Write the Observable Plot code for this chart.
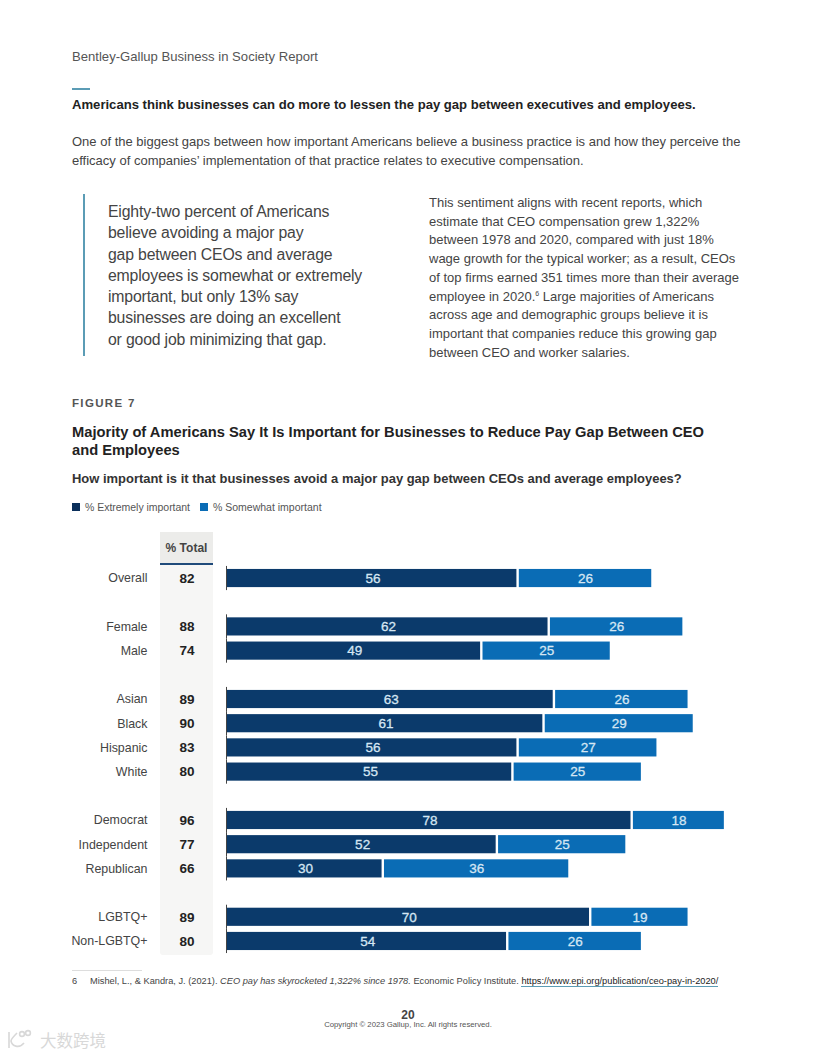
<!DOCTYPE html>
<html><head><meta charset="utf-8">
<script src="https://cdn.jsdelivr.net/npm/d3@7"></script>
<script src="https://cdn.jsdelivr.net/npm/@observablehq/plot@0.6"></script>
<style>
html,body{margin:0;padding:0;background:#fff}
body{width:816px;height:1056px;position:relative;overflow:hidden;font-family:"Liberation Sans",sans-serif;color:#333}
.t{position:absolute;white-space:nowrap}
#chart{position:absolute;left:0;top:525px}
#chart svg{background:transparent}
.col{position:absolute;left:160px;width:53px;top:532px;height:423px;background:#f6f6f5;border-radius:0 0 3px 3px}
.colh{position:absolute;left:160px;width:53px;top:532px;height:33px;background:#ececea;border-bottom:2px solid #1f4a7a;text-align:center;font-size:12px;line-height:33px;font-weight:bold;color:#444;box-sizing:border-box}
sup{font-size:7px;line-height:0}
</style></head><body>
<div class="t" style="left:72px;top:49px;font-size:13.1px;color:#555">Bentley-Gallup Business in Society Report</div>
<div class="t" style="left:72px;top:88px;width:18px;height:2px;background:#5b9cb5"></div>
<div class="t" style="left:72px;top:97px;font-size:13.1px;font-weight:bold;color:#222">Americans think businesses can do more to lessen the pay gap between executives and employees.</div>
<div class="t" style="left:72px;top:132px;font-size:13px;line-height:19px;color:#444">One of the biggest gaps between how important Americans believe a business practice is and how they perceive the<br>efficacy of companies’ implementation of that practice relates to executive compensation.</div>
<div class="t" style="left:83px;top:194px;width:2px;height:162px;background:#5b9cb5"></div>
<div class="t" style="left:108px;top:201px;font-size:15.8px;letter-spacing:-0.17px;line-height:21.3px;color:#444">Eighty-two percent of Americans<br>believe avoiding a major pay<br>gap between CEOs and average<br>employees is somewhat or extremely<br>important, but only 13% say<br>businesses are doing an excellent<br>or good job minimizing that gap.</div>
<div class="t" style="left:429px;top:194px;font-size:13px;line-height:18.7px;color:#444">This sentiment aligns with recent reports, which<br>estimate that CEO compensation grew 1,322%<br>between 1978 and 2020, compared with just 18%<br>wage growth for the typical worker; as a result, CEOs<br>of top firms earned 351 times more than their average<br>employee in 2020.<sup>6</sup> Large majorities of Americans<br>across age and demographic groups believe it is<br>important that companies reduce this growing gap<br>between CEO and worker salaries.</div>
<div class="t" style="left:72px;top:397px;font-size:11.5px;font-weight:bold;letter-spacing:1.35px;color:#555">FIGURE 7</div>
<div class="t" style="left:72px;top:423px;font-size:14.7px;line-height:18px;font-weight:bold;color:#222">Majority of Americans Say It Is Important for Businesses to Reduce Pay Gap Between CEO<br>and Employees</div>
<div class="t" style="left:72px;top:471px;font-size:12.96px;font-weight:bold;color:#333">How important is it that businesses avoid a major pay gap between CEOs and average employees?</div>
<div class="t" style="left:72px;top:503px;width:8px;height:8px;background:#0b2f5b"></div>
<div class="t" style="left:85px;top:501px;font-size:10.5px;letter-spacing:-0.03px;color:#555">% Extremely important</div>
<div class="t" style="left:200px;top:503px;width:8px;height:8px;background:#0a6cb5"></div>
<div class="t" style="left:213px;top:501px;font-size:10.5px;color:#555">% Somewhat important</div>
<div class="col"></div><div class="colh">% Total</div>
<div id="chart"></div>
<div class="t" style="left:72px;top:970px;width:70px;height:1px;background:#ddd"></div>
<div class="t" style="left:72px;top:976px;font-size:9.26px;color:#444"><span style="display:inline-block;width:18px">6</span>Mishel, L., &amp; Kandra, J. (2021). <i>CEO pay has skyrocketed 1,322% since 1978.</i> Economic Policy Institute. <span style="border-bottom:1px solid #5b9cb5;color:#222">https://www.epi.org/publication/ceo-pay-in-2020/</span></div>
<div class="t" style="left:0;width:816px;text-align:center;top:1010px;font-size:12px;line-height:11px;font-weight:bold;color:#444">20</div>
<div class="t" style="left:0;width:816px;text-align:center;top:1021px;font-size:7.75px;line-height:8px;color:#555">Copyright © 2023 Gallup, Inc. All rights reserved.</div>
<svg class="t" style="left:5px;top:1028px" width="32" height="24" viewBox="0 0 32 24" fill="none" stroke="#d8d8d8" stroke-width="1.6"><path d="M4 4V20M12 5C8 9 6 11 6 13C7 18 14 21 19 15"/><circle cx="17" cy="6" r="2.4"/><circle cx="23" cy="5" r="2.4"/></svg>
<div class="t" style="left:40px;top:1028px;font-family:'Noto Sans CJK SC';font-size:16.5px;color:#d8d8d8">大数跨境</div>
<script>
const categories = ["Overall","g1","Female","Male","g2","Asian","Black","Hispanic","White","g3","Democrat","Independent","Republican","g4","LGBTQ+","Non-LGBTQ+"];
const labels = ["Overall","Female","Male","Asian","Black","Hispanic","White","Democrat","Independent","Republican","LGBTQ+","Non-LGBTQ+"];
const extremely = [56,62,49,63,61,56,55,78,52,30,70,54];
const somewhat = [26,26,25,26,29,27,25,18,25,36,19,26];
const totals = [82,88,74,89,90,83,80,96,77,66,89,80];
const navy = "#0b3a6b", blue = "#0a6cb5";
const rows = labels.map((label,i)=>({label,extremely:extremely[i],somewhat:somewhat[i],total:totals[i]}));
const chart = Plot.plot({
  width:816,height:440,
  marginLeft:226,marginRight:0,marginTop:37.9,marginBottom:8.9,
  style:{background:"transparent",fontFamily:"'Liberation Sans',sans-serif"},
  x:{domain:[0,113.77],axis:null},
  y:{domain:categories,padding:0.25,align:0.5,round:false,label:null},
  marks:[
    Plot.axisY({tickSize:0,tickPadding:79,fontSize:12.4,fill:"#444",label:null,tickFormat:d=>labels.includes(d)?d:""}),
    Plot.barX(rows,{x1:0,x2:"extremely",y:"label",fill:navy}),
    Plot.barX(rows,{x1:"extremely",x2:d=>d.extremely+d.somewhat,y:"label",fill:blue,insetLeft:2.4}),
    Plot.tickX(rows,{x:0,y:"label",stroke:"#444",strokeWidth:1,insetTop:-3,insetBottom:-3}),
    Plot.text(rows,{x:d=>d.extremely/2,y:"label",text:"extremely",dx:1.3,fill:"#d5e6f3",stroke:"#d5e6f3",strokeWidth:0.3,fontSize:13.5}),
    Plot.text(rows,{x:d=>d.extremely+d.somewhat/2,y:"label",text:"somewhat",dx:1.3,fill:"#d5e6f3",stroke:"#d5e6f3",strokeWidth:0.3,fontSize:13.5}),
    Plot.text(rows,{x:0,y:"label",text:"total",dx:-39.5,fontSize:13.5,fontWeight:"bold",fill:"#222"})
  ]
});
document.getElementById("chart").append(chart);
</script>
</body></html>
